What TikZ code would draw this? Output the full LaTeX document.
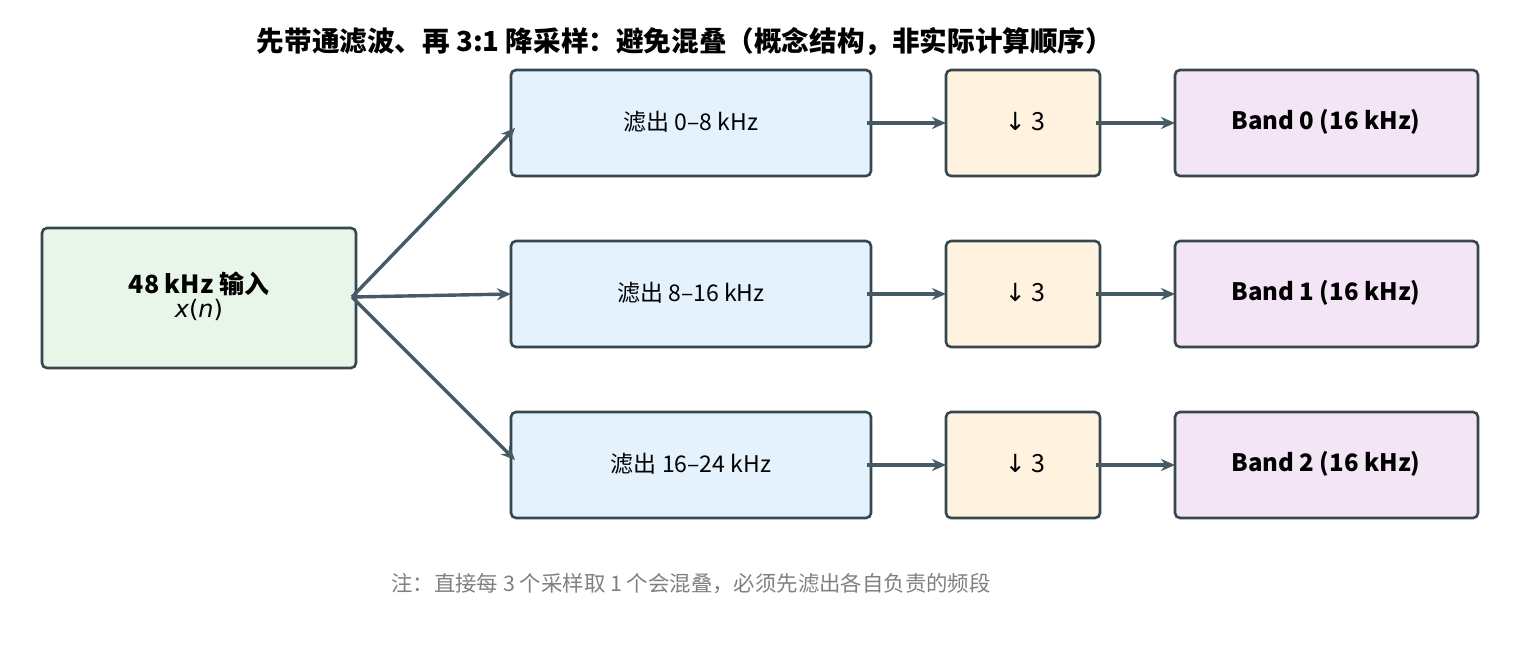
\documentclass[tikz,border=0pt]{standalone}
\usepackage{fontspec}
\setmainfont{Noto Sans CJK SC}
\newfontfamily\dvs{DejaVu Sans}
\usetikzlibrary{arrows.meta}
\definecolor{edge}{HTML}{37474F}
\definecolor{arr}{HTML}{455A64}
\definecolor{cin}{HTML}{E8F5E9}
\definecolor{cfil}{HTML}{E3F2FD}
\definecolor{cdn}{HTML}{FFF3E0}
\definecolor{cband}{HTML}{F3E5F5}
\begin{document}
\begin{tikzpicture}[x=0.5pt,y=-0.5pt,
 box/.style={draw=edge,line width=1.3pt,rounded corners=2.5pt,inner sep=0},
 a/.style={draw=arr,line width=1.7pt,-{Stealth[length=7pt,width=6pt]}},
 t/.style={font=\fontsize{11.5}{13}\selectfont}]
\useasboundingbox (0,0) rectangle (1520,648);
\node[font=\fontsize{13.8}{16}\selectfont\bfseries] (title) at (685,42) {先带通滤波、再 3:1 降采样：避免混叠（概念结构，非实际计算顺序）};
\filldraw[box,fill=cin] (42,228) rectangle (356,368);
\node[align=center] (in) at (199,296) {\fontsize{12.5}{17}\selectfont\bfseries 48 kHz 输入\\{\fontsize{12}{14}\selectfont\dvs\itshape x\upshape(\itshape n\upshape)}};
\coordinate (src) at (352,297);
\foreach \i/\y/\txt in {0/70/滤出 0–8 kHz,1/241/滤出 8–16 kHz,2/412/滤出 16–24 kHz}{
 \filldraw[box,fill=cfil] (511,\y) rectangle (871,\y+106);
 \filldraw[box,fill=cdn] (946,\y) rectangle (1100,\y+106);
 \filldraw[box,fill=cband] (1175,\y) rectangle (1478,\y+106);
 \node[t] (f\i) at (691,\y+52) {\txt};
 \node[font=\fontsize{12.5}{14}\selectfont] (d\i) at (1025,\y+52) {{\dvs ↓} 3};
 \node[font=\fontsize{12}{14}\selectfont\bfseries] (b\i) at (1326,\y+52) {Band \i\ (16 kHz)};
 \draw[a] (867,\y+53) -- (946,\y+53);
 \draw[a] (1096,\y+53) -- (1175,\y+53);
}
\draw[a] (src) -- (515,128);
\draw[a] (src) -- (511,294);
\draw[a] (src) -- (515,460);
\node[font=\fontsize{10.7}{12}\selectfont,text=gray] (note) at (691,584) {注：直接每 3 个采样取 1 个会混叠，必须先滤出各自负责的频段};
\end{tikzpicture}
\end{document}
